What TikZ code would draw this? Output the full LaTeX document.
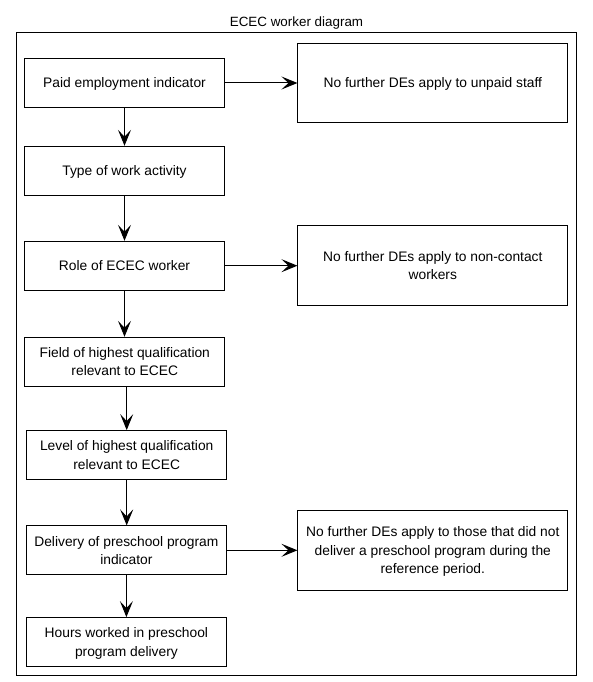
\documentclass[tikz,border=0pt]{standalone}
\usepackage{fontspec}
\setmainfont{Liberation Sans}
\usetikzlibrary{arrows.meta}
\begin{document}
\begin{tikzpicture}[x=1pt,y=-1pt,
  box/.style={draw=black,line width=1pt,align=center,inner sep=2pt,text depth=0pt,
    font=\fontsize{13.8}{18.5}\selectfont},
  lbox/.style={box,minimum width=200pt,minimum height=48.8pt},
  rbox/.style={box,minimum width=269.7pt,minimum height=79.5pt},
  conn/.style={line width=1pt,-{Stealth[length=16pt,width=13pt,inset=7pt]}}]
\useasboundingbox (0,0) rectangle (593,682);
\node[draw=black,line width=1pt,minimum width=560.4pt,minimum height=642.7pt,inner sep=0pt] (frame) at (296.5,353.65) {};
\node[font=\fontsize{13.4}{16}\selectfont,text depth=0pt] (title) at (296.5,22) {ECEC worker diagram};
\node[lbox] (b1) at (124.5,83) {Paid employment indicator};
\node[lbox] (b2) at (124.5,170.7) {Type of work activity};
\node[lbox] (b3) at (124.5,265.7) {Role of ECEC worker};
\node[lbox] (b4) at (124.8,361.7) {Field of highest qualification\\relevant to ECEC};
\node[lbox] (b5) at (126.7,455) {Level of highest qualification\\relevant to ECEC};
\node[lbox] (b6) at (126.4,550.3) {Delivery of preschool program\\indicator};
\node[lbox] (b7) at (126.4,642) {Hours worked in preschool\\program delivery};
\node[rbox] (r1) at (432.8,82.8) {No further DEs apply to unpaid staff};
\node[rbox] (r2) at (432.8,265.4) {No further DEs apply to non-contact\\workers};
\node[rbox] (r3) at (432.8,550.3) {No further DEs apply to those that did not\\deliver a preschool program during the\\reference period.};
\draw[conn] (b1.south) -- (b2.north);
\draw[conn] (b2.south) -- (b3.north);
\draw[conn] (b3.south) -- (b4.north -| b3.south);
\draw[conn] (b4.south -| b5.north) -- (b5.north);
\draw[conn] (b5.south) -- (b6.north -| b5.south);
\draw[conn] (b6.south) -- (b7.north);
\draw[conn] (b1.east) -- (r1.west |- b1.east);
\draw[conn] (b3.east) -- (r2.west |- b3.east);
\draw[conn] (b6.east) -- (r3.west |- b6.east);
\end{tikzpicture}
\end{document}
